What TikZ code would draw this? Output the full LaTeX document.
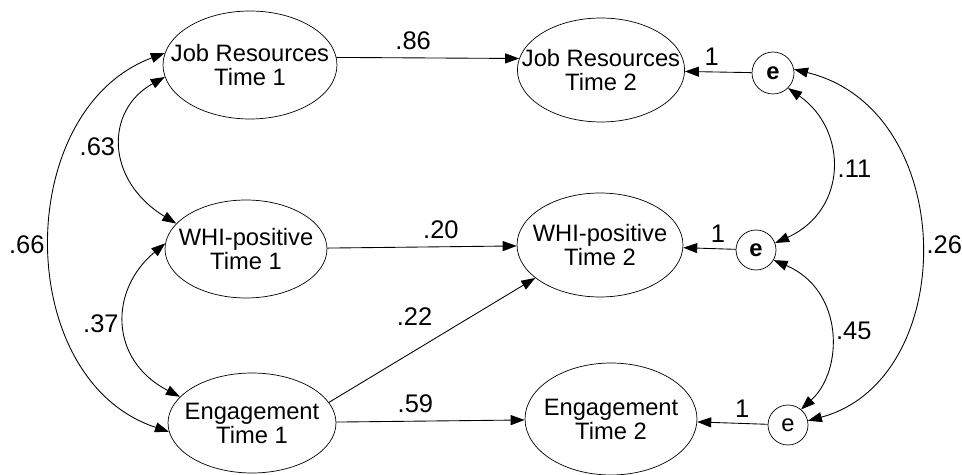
\documentclass[tikz,border=0pt]{standalone}
\usepackage{fontspec}
\setmainfont{Liberation Sans}
\usetikzlibrary{shapes.geometric,arrows.meta}

\begin{document}
\begin{tikzpicture}[
        x=0.02cm, y=-0.02cm,
        font=\fontsize{13.5}{13.7}\selectfont,
        latent/.style={draw, ellipse, inner xsep=-0.4cm, inner ysep=0pt, align=center},
        err/.style={draw, circle, inner sep=0pt, minimum size=0.8cm},
        coef/.style={font=\fontsize{14.5}{15}\selectfont},
        regr/.style={-{Triangle[length=0.28cm, width=0.2cm]}, line width=0.5pt},
        cov/.style={{Triangle[length=0.28cm, width=0.2cm]}-{Triangle[length=0.28cm, width=0.2cm]}, line width=0.5pt}
      ]
      \useasboundingbox (0,0) rectangle (962,475);
      % time 1
      \node[latent, minimum width=3.48cm, minimum height=2.16cm] (jr1) at (250,65) {Job Resources \\ Time 1};
      \node[latent, minimum width=3.24cm, minimum height=1.96cm] (whi1) at (246,249) {WHI-positive \\ Time 1};
      \node[latent, minimum width=3.36cm, minimum height=2.0cm] (eng1) at (252,423) {Engagement \\ Time 1};
      % time 2
      \node[latent, minimum width=3.32cm, minimum height=2.08cm] (jr2) at (601,70) {Job Resources \\ Time 2};
      \node[latent, minimum width=3.32cm, minimum height=2.08cm] (whi2) at (600,245) {WHI-positive \\ Time 2};
      \node[latent, minimum width=3.44cm, minimum height=2.24cm] (eng2) at (611,419) {Engagement \\ Time 2};
      % residuals
      \node[err, minimum size=0.84cm] (e1) at (773,73) {\textbf{e}};
      \node[err] (e2) at (756,250) {\textbf{e}};
      \node[err] (e3) at (788,425) {e};

      \draw[regr] (jr1.5) -- node[coef, pos=0.42, above=1pt] {.86} (jr2.172);
      \draw[regr] (whi1) -- node[coef, pos=0.6, above=1pt] {.20} (whi2);
      \draw[regr] (eng1.15) -- node[coef, pos=0.415, above=0.38cm] {.22} (whi2.207);
      \draw[regr] (eng1) -- node[coef, pos=0.42, above=1pt] {.59} (eng2);
      \draw[regr] (e1) -- node[coef, pos=0.6, above] {1} (jr2);
      \draw[regr] (e2) -- node[coef, pos=0.34, above] {1} (whi2);
      \draw[regr] (e3) -- node[coef, pos=0.36, above] {1} (eng2);

      \draw[cov] (jr1.188) .. controls (105,110) and (105,180) .. node[coef, left] {.63} (whi1.160);
      \draw[cov] (whi1.176) .. controls (109,290) and (109,360) .. node[coef, left] {.37} (eng1.160);
      \draw[cov] (jr1.172) .. controls (12,110) and (12,380) .. node[coef, left] {.66} (eng1.186);
      \draw[cov] (e1.-45) .. controls (848,130) and (848,210) .. node[coef, right] {.11} (e2.20);
      \draw[cov] (e2.-30) .. controls (844,290) and (844,370) .. node[coef, right] {.45} (e3.50);
      \draw[cov] (e1.10) .. controls (960,110) and (960,380) .. node[coef, right] {.26} (e3.12);
      \end{tikzpicture}
\end{document}
